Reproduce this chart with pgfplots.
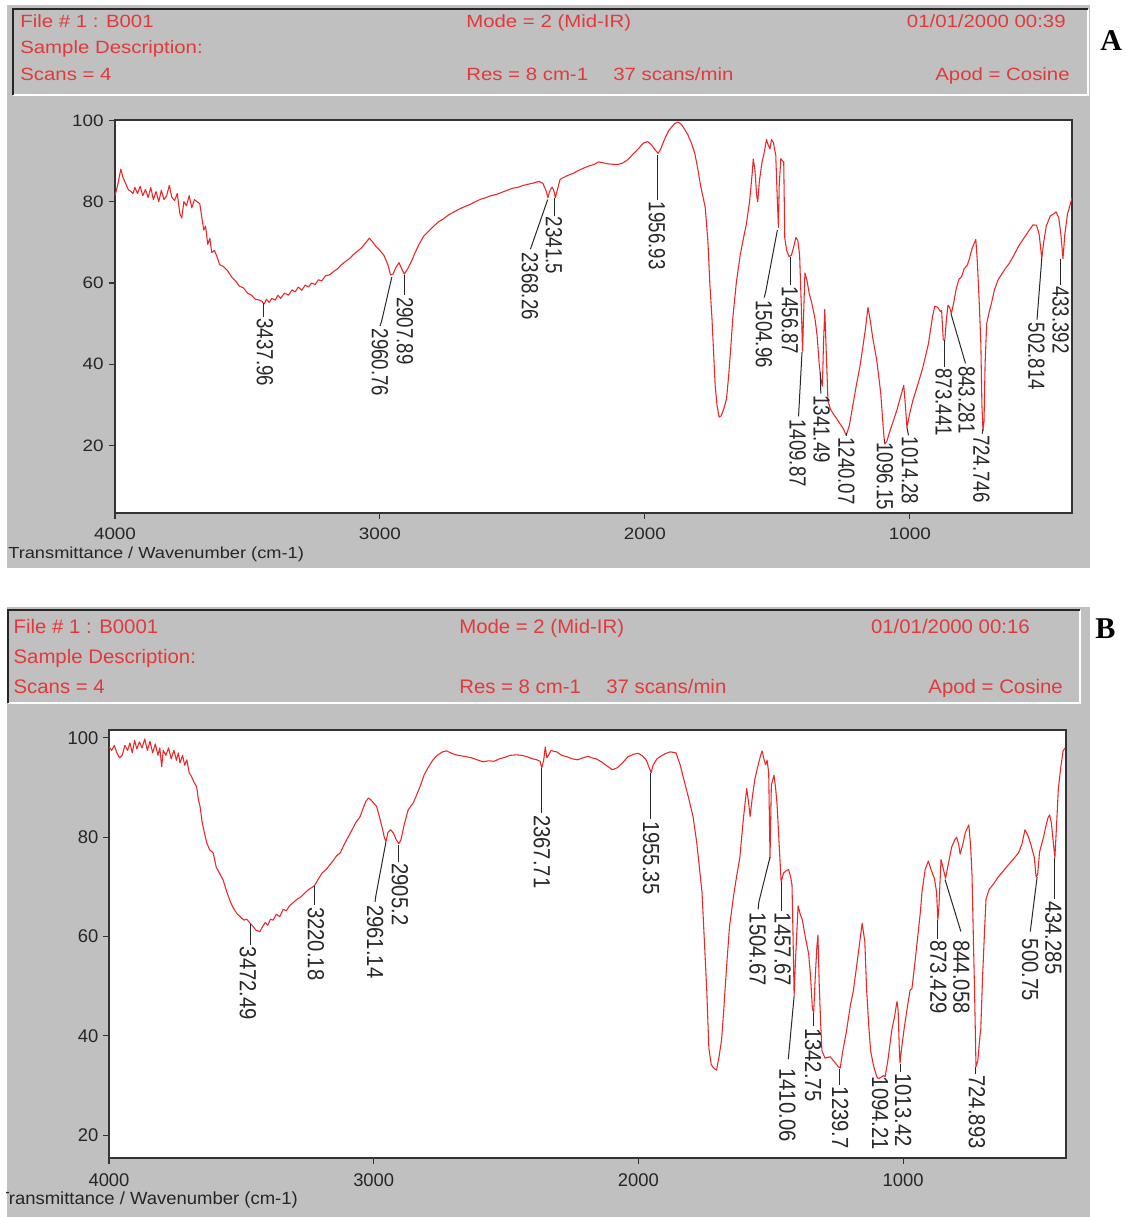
\documentclass[border=0pt]{standalone}
\usepackage{fontspec}
\setmainfont{Liberation Sans}
\newfontfamily\serifb{Liberation Serif}
\usepackage{pgfplots}
\pgfplotsset{compat=1.18}
\definecolor{panelgray}{RGB}{192,192,192}
\definecolor{specred}{RGB}{234,38,38}
\definecolor{hdrred}{RGB}{226,58,58}
\definecolor{lblgray}{RGB}{40,40,40}
\pgfplotsset{
  ftir/.style={
    scale only axis, x dir=reverse, clip mode=individual,
    axis background/.style={fill=white},
    axis line style={draw=black!80, line width=0.9pt},
    xtick={1000,2000,3000,4000}, ytick={20,40,60,80,100},
    tick align=outside, xtick pos=bottom, ytick pos=left,
    major tick length=4.5pt,
    tick style={black!80, line width=0.8pt},
    xticklabel style={yshift=-3.5pt},
    /pgf/number format/assume math mode=true,
    /pgf/number format/1000 sep={},
  },
  spec/.style={specred, line width=0.8pt, no marks, line join=round},
  leader/.style={lblgray, line width=0.75pt, no marks},
}
\tikzset{
  lblA/.style={xscale=1.25, rotate=-90, anchor=west, inner sep=0pt, font=\fontsize{14}{16}\selectfont, text=lblgray},
  lblB/.style={xscale=1.15, rotate=-90, anchor=west, inner sep=0pt, font=\fontsize{15.2}{17}\selectfont, text=lblgray},
  hdrA/.style={xscale=1.15, inner sep=0pt, font=\fontsize{13.3}{15}\selectfont, text=hdrred},
  hdrB/.style={xscale=1.04, inner sep=0pt, font=\fontsize{14.7}{16}\selectfont, text=hdrred},
}
\begin{document}
\begin{tikzpicture}
\begin{scope}[x=0.75pt, y=-0.75pt]
\path[use as bounding box, fill=white] (0,0) rectangle (1125,1217);
% panel backgrounds
\fill[panelgray] (7,5) rectangle (1090,568);
\fill[panelgray] (7,607) rectangle (1090,1217);
% header A
\draw[white, line width=1.6pt] (13,95) -- (1088,95) -- (1088,9);
\draw[black!85, line width=2pt] (13,95) -- (13,9) -- (1088,9);
% header B
\draw[white, line width=1.6pt] (8,703) -- (1080,703) -- (1080,610);
\draw[black!85, line width=2pt] (8,703) -- (8,610) -- (1080,610);
% header texts A
\node[hdrA, anchor=base west] at (20,27) {File \# 1 : B001};
\node[hdrA, anchor=base west] at (20,53.3) {Sample Description:};
\node[hdrA, anchor=base west] at (20,80) {Scans = 4};
\node[hdrA, anchor=base west] at (466,27) {Mode = 2 (Mid-IR)};
\node[hdrA, anchor=base west] at (466,80) {Res = 8 cm-1};
\node[hdrA, anchor=base west] at (613,80) {37 scans/min};
\node[hdrA, anchor=base east] at (1066,27) {01/01/2000 00:39};
\node[hdrA, anchor=base east] at (1070,80) {Apod = Cosine};
% header texts B
\node[hdrB, anchor=base west] at (13.3,633) {File \# 1 : B0001};
\node[hdrB, anchor=base west] at (13.3,663) {Sample Description:};
\node[hdrB, anchor=base west] at (13.3,693) {Scans = 4};
\node[hdrB, anchor=base west] at (459,633) {Mode = 2 (Mid-IR)};
\node[hdrB, anchor=base west] at (459,693) {Res = 8 cm-1};
\node[hdrB, anchor=base west] at (606,693) {37 scans/min};
\node[hdrB, anchor=base east] at (1030,633) {01/01/2000 00:16};
\node[hdrB, anchor=base east] at (1063,693) {Apod = Cosine};
% panel letters
\node[anchor=base west, inner sep=0pt, font=\serifb\bfseries\fontsize{22.6}{24}\selectfont] at (1100,50) {A};
\node[anchor=base west, inner sep=0pt, font=\serifb\bfseries\fontsize{22.6}{24}\selectfont] at (1095,638) {B};
% x labels
\node[anchor=base west, inner sep=0pt, xscale=1.14, font=\fontsize{12}{14}\selectfont, text=black!85] at (8,558) {Transmittance / Wavenumber (cm-1)};
\begin{scope}
\clip (6,1180) rectangle (400,1217);
\node[anchor=base west, inner sep=0pt, xscale=1.05, font=\fontsize{13.2}{15}\selectfont, text=black!85] at (-2,1204) {Transmittance / Wavenumber (cm-1)};
\end{scope}
\end{scope}

% ================= Panel A =================
\begin{axis}[ftir, at={(86.25pt,-384.75pt)}, anchor=south west,
  width=717.75pt, height=294.75pt,
  xmin=388, xmax=4000, ymin=3.4, ymax=100.1,
  ticklabel style={font=\fontsize{12.4}{14}\selectfont, text=black!85, xscale=1.14}]
\addplot[spec] table {
x y
4000 81.5
3990 84
3978 88
3970 86
3960 84.5
3950 83
3940 82.5
3932 82
3925 83.5
3915 82
3905 83.8
3895 81.5
3885 83
3875 81
3865 83.5
3855 80.5
3845 82.5
3835 80
3825 82.8
3815 80.5
3805 81.5
3795 84
3785 81
3775 80.3
3765 82
3755 77
3748 76
3740 80
3730 79
3720 81.5
3710 78.5
3700 80.5
3690 80
3680 79.5
3672 76
3665 73
3658 74
3650 69.5
3642 71
3635 67.5
3625 68
3615 66.5
3605 64.5
3590 64
3575 63
3560 61.5
3545 60.5
3530 59.2
3515 58.8
3500 57.5
3485 57
3470 56
3455 55.8
3445 55.5
3438 54.8
3428 56
3418 55.2
3408 56.2
3395 55.8
3385 57
3375 56.2
3360 57.5
3345 57
3332 58.3
3320 57.8
3308 59
3295 58.2
3282 59.5
3270 59
3258 60
3245 59.6
3232 60.8
3220 60.5
3205 61.8
3190 62
3175 62.8
3160 63.5
3145 64.5
3130 65.3
3115 66
3100 67
3085 67.8
3070 68.6
3055 69.8
3040 71
3030 70.3
3015 69
3000 68
2985 66.8
2970 64.5
2960 62
2950 62.2
2940 63.8
2928 65
2918 63.5
2908 62.2
2895 63.5
2880 65.5
2865 67.8
2850 69.8
2835 71.5
2820 72.5
2800 73.8
2780 75
2760 75.8
2740 76.8
2720 77.5
2700 78.2
2680 78.8
2660 79.3
2640 80
2620 80.6
2600 81
2580 81.5
2560 81.8
2540 82.3
2520 82.8
2500 83.3
2480 83.5
2460 84
2440 84.3
2420 84.6
2400 85
2385 84.5
2372 82.5
2366 81
2358 82.8
2350 83.6
2344 82.8
2338 81
2330 83
2320 85.5
2306 86
2290 86.5
2270 87
2250 87.7
2230 88.3
2210 88.8
2190 89.2
2175 89.8
2160 89.6
2140 89.3
2120 89.2
2100 89.2
2084 89.5
2065 90.3
2045 91.7
2025 93
2006 94.4
1990 94.8
1975 94
1962 92.8
1950 91.9
1940 93
1925 95.5
1910 97.5
1900 98.3
1888 99.2
1875 99.6
1862 99
1850 97.8
1838 96.5
1825 94.5
1812 92
1800 88
1790 84
1780 81
1772 78.5
1762 70
1755 60
1747 51.5
1740 42
1735 35
1728 30
1720 27
1712 27.3
1705 28.5
1698 30
1692 31.5
1684 37
1676 44
1668 51.5
1655 60
1640 67
1628 71
1617 74.5
1605 80
1595 87
1591 90.5
1585 88
1578 81.5
1574 80
1568 85
1558 89.7
1550 92
1541 95.3
1535 94
1528 93
1522 95.3
1515 94.5
1506 91.4
1500 80
1496 73.7
1493 84
1487 90.6
1480 90
1476 89.7
1472 71
1465 68
1456 66.5
1447 66.8
1438 69
1430 71.2
1423 70.5
1416 66.8
1410 55
1405 43.2
1402 50
1396 62.5
1389 60.9
1380 57.5
1370 55
1362 52.5
1357 50.8
1350 47
1342 40
1336 36.5
1330 34.6
1326 45
1321 53.5
1315 42
1309 31
1300 29
1290 27.9
1275 26.5
1260 25
1250 24
1240 22.5
1228 25
1215 30
1200 35.5
1189 39.2
1178 44
1168 48.5
1158 54
1150 51
1140 46.5
1125 41
1110 33
1100 24
1095 20.4
1087 21
1078 23
1060 26.5
1049 28.7
1035 32
1023 34.8
1017 30
1011 24.5
1000 28
989 31
970 35
951 39.2
930 45
915 51.5
906 54.3
895 54
885 53
880 53.2
874 46
868 45.9
862 51
856 54.5
850 54
843 52.5
835 55
825 58.5
815 60.9
805 61.5
795 63.5
783 64.4
775 66
765 68.5
751 70.7
745 65
738 55
732 45
728 30
724 23.7
720 26
716 40
710 50
700 53
692 55
680 58.5
666 60.9
650 62.5
640 63.5
626 64.7
610 66.5
590 69
570 71
549 73
535 74.3
522 74.2
512 72
502 66
495 70
485 74
470 76.5
457 77
448 77.5
438 76
430 72
422 66
415 72
405 77
396 79
388 81
};
% leaders A
\addplot[leader] coordinates {(3438,55) (3438,51.6)};
\addplot[leader] coordinates {(2955,61.5) (2994,50.5) (3000,49.4)};
\addplot[leader] coordinates {(2908,62) (2908,57)};
\addplot[leader] coordinates {(2367,80.5) (2432,68.3)};
\addplot[leader] coordinates {(2342,81) (2342,76.6)};
\addplot[leader] coordinates {(1954,91.5) (1954,80.4)};
\addplot[leader] coordinates {(1500,73) (1545,57.5) (1550,56.4)};
\addplot[leader] coordinates {(1450,66.3) (1450,59.4)};
\addplot[leader] coordinates {(1407,43) (1420,27.2)};
\addplot[leader] coordinates {(1338,38) (1336,32.8)};
\addplot[leader] coordinates {(1240,23.2) (1240,22.3)};
\addplot[leader] coordinates {(1095,21.5) (1095,20.9)};
\addplot[leader] coordinates {(1011,24.5) (1005,22.5)};
\addplot[leader] coordinates {(870,46) (870,39.4)};
\addplot[leader] coordinates {(845,52.5) (790,40.2)};
\addplot[leader] coordinates {(724,24) (727,22.9)};
\addplot[leader] coordinates {(502,66) (520,51)};
\addplot[leader] coordinates {(433,66) (433,59.6)};
% labels A
\node[lblA] at (axis cs:3434,51.3) {3437.96};
\node[lblA] at (axis cs:3000,48.8) {2960.76};
\node[lblA] at (axis cs:2906,56.6) {2907.89};
\node[lblA] at (axis cs:2434,67.6) {2368.26};
\node[lblA] at (axis cs:2343,76.3) {2341.5};
\node[lblA] at (axis cs:1955,80) {1956.93};
\node[lblA] at (axis cs:1551,55.8) {1504.96};
\node[lblA] at (axis cs:1453,59.1) {1456.87};
\node[lblA] at (axis cs:1423,26.5) {1409.87};
\node[lblA] at (axis cs:1333,32.4) {1341.49};
\node[lblA] at (axis cs:1239,22.1) {1240.07};
\node[lblA] at (axis cs:1094,20.8) {1096.15};
\node[lblA] at (axis cs:1000,22.2) {1014.28};
\node[lblA] at (axis cs:872,39) {873.441};
\node[lblA] at (axis cs:786,39.6) {843.281};
\node[lblA] at (axis cs:730,22.6) {724.746};
\node[lblA] at (axis cs:522,50.3) {502.814};
\node[lblA] at (axis cs:431,59.3) {433.392};
\end{axis}

% ================= Panel B =================
\begin{axis}[ftir, at={(81.75pt,-868.5pt)}, anchor=south west,
  width=717.75pt, height=321pt,
  xmin=385, xmax=4000, ymin=15.4, ymax=101.6,
  ticklabel style={font=\fontsize{13.8}{15}\selectfont, text=black!85}]
\addplot[spec] table {
x y
4000 98.2
3990 97.5
3980 98.5
3970 97
3960 96
3950 96.5
3940 98.5
3930 97.5
3921 99
3912 97
3903 99.5
3895 97.8
3885 99.2
3875 98
3865 99.8
3855 97.5
3845 99.3
3835 97
3825 98.8
3815 96.5
3808 98
3801 94.2
3795 97.5
3785 96.5
3775 98
3765 95.8
3755 97.5
3745 95.5
3738 97
3732 95
3722 96.5
3714 94.5
3706 95.6
3697 93
3688 92.2
3678 91
3669 90.2
3662 87.5
3656 86.2
3648 83
3640 81
3631 78.9
3620 77.5
3606 76.8
3595 74
3580 72.5
3569 71.4
3555 69
3540 66.8
3531 65.8
3515 64.5
3500 63.8
3490 63.3
3480 63.5
3467 62.7
3455 62
3445 61.3
3430 61
3420 62
3410 62.8
3400 62.3
3390 63.5
3380 63.3
3368 64.5
3355 64
3342 65.5
3330 65.2
3318 66.2
3305 66.8
3290 67.5
3275 68
3260 68.8
3245 69.5
3230 70
3222 70.4
3210 71.5
3195 72.8
3180 73.5
3165 74.5
3150 75.5
3140 76.3
3127 76.8
3112 78.5
3097 80
3082 81.5
3067 83
3052 84.1
3040 85.8
3030 87.2
3020 87.9
3010 87.5
2999 86.8
2989 86.2
2978 84
2966 81.5
2960 80
2954 79.1
2946 81
2936 81.5
2925 80.8
2915 79.5
2905 78.7
2897 79.5
2885 82.5
2870 85.5
2851 86.9
2838 88.5
2825 90.2
2810 92.5
2795 94
2776 95.6
2760 96.5
2740 97.2
2724 97.4
2710 97
2690 96.6
2670 96.4
2648 96.2
2630 96
2610 95.6
2587 95.2
2565 95.4
2545 95.3
2525 95.8
2505 96.1
2485 96.5
2460 96.6
2440 96.5
2420 96.2
2400 95.8
2384 95.6
2372 95.3
2365 94
2358 95.5
2352 98.2
2346 96
2340 96.5
2330 97.5
2320 97.3
2309 97.2
2290 96.5
2270 96.2
2250 95.8
2230 95.6
2210 96
2190 96.3
2177 96
2160 95.8
2140 95.2
2120 94.4
2098 93.6
2080 94
2060 95
2040 96.2
2020 96.7
2000 96.9
1985 96.4
1970 95.5
1958 93.8
1952 93
1945 94.5
1930 95.8
1917 96.3
1900 96.8
1880 97.2
1858 97
1842 94.5
1826 91.1
1810 87.8
1794 84.2
1780 79
1770 74
1760 69
1750 58
1742 49.2
1734 37.5
1725 34.2
1716 33.5
1705 33.1
1695 36
1686 39.2
1678 45
1673 49.2
1665 55.5
1656 62
1640 68.5
1628 72.5
1617 75.9
1605 83
1597 87
1591 89.8
1584 87
1578 84.2
1570 88
1560 91.8
1548 94.5
1540 96.2
1533 97.4
1527 96
1520 94.6
1514 95.5
1508 93
1503 75.9
1498 90.5
1488 92.5
1482 90
1476 86.3
1468 78
1461 71
1452 72.8
1443 73.2
1433 73.5
1425 72
1420 70.4
1416 60
1412 48.1
1407 55
1397 66.2
1389 64.5
1381 63.4
1370 60
1357 56.5
1350 52
1343 45.5
1338 44.7
1332 52
1326 58
1322 60.3
1317 50
1312 43
1307 37
1295 35.5
1276 35.8
1260 34.8
1245 33.8
1238 33.5
1228 37
1214 41
1200 46
1188 49.2
1176 54
1165 58.5
1155 62.7
1145 59
1138 49.2
1130 42
1123 37
1112 34
1100 31.8
1094 31.4
1085 31.6
1075 32
1068 31.8
1058 35
1043 41.2
1032 44
1025 46.5
1023 46.9
1019 45
1015 38
1012 34.5
1006 37.5
995 42
985 45.5
974 49.2
967 49.5
955 55
945 60
935 65
929 69
917 73.5
905 75.2
895 73.5
882 71.7
874 69
869 63.4
865 66
860 72
857 75.5
850 74
840 71.7
830 74.5
817 78
805 79.5
798 80
790 78.5
785 76.6
775 78.5
765 81
752 82.5
745 78
740 72.4
735 60
730 48
725 33.8
718 35
710 40
707 41.2
700 52
692 62
687 67.6
675 69.5
660 70.5
641 72
625 73
602 74.5
585 75.5
564 76.9
552 78.5
540 81.5
530 80.5
518 78.6
505 76
498 72
492 72.5
485 77
470 80
460 82.5
453 83.9
447 84.5
440 82.8
433 79
427 75.9
421 82
414 89.7
405 94
396 97.4
388 98
};
% leaders B
\addplot[leader] coordinates {(3467,62.5) (3467,58.3)};
\addplot[leader] coordinates {(3222,70.2) (3222,66.3)};
\addplot[leader] coordinates {(2954,79) (2992,68.2) (2995,67)};
\addplot[leader] coordinates {(2905,78.5) (2905,75)};
\addplot[leader] coordinates {(2366,94) (2366,84.8)};
\addplot[leader] coordinates {(1953,93) (1953,83.6)};
\addplot[leader] coordinates {(1503,76) (1545,67) (1548,65.5)};
\addplot[leader] coordinates {(1458,71) (1458,65.2)};
\addplot[leader] coordinates {(1412,48) (1434,35.3)};
\addplot[leader] coordinates {(1340,44.7) (1340,41.9)};
\addplot[leader] coordinates {(1239,33.3) (1239,30.1)};
\addplot[leader] coordinates {(1012,34.3) (1012,32.7)};
\addplot[leader] coordinates {(869,63.4) (869,59.6)};
\addplot[leader] coordinates {(842,71.5) (782,61)};
\addplot[leader] coordinates {(725,33.8) (725,32.4)};
\addplot[leader] coordinates {(494,72) (520,61)};
\addplot[leader] coordinates {(428,75.8) (428,67.5)};
% labels B
\node[lblB] at (axis cs:3475,58) {3472.49};
\node[lblB] at (axis cs:3218,66) {3220.18};
\node[lblB] at (axis cs:2995,66.4) {2961.14};
\node[lblB] at (axis cs:2901,74.8) {2905.2};
\node[lblB] at (axis cs:2365,84.5) {2367.71};
\node[lblB] at (axis cs:1952,83.3) {1955.35};
\node[lblB] at (axis cs:1550,64.8) {1504.67};
\node[lblB] at (axis cs:1455,64.8) {1457.67};
\node[lblB] at (axis cs:1437,33.5) {1410.06};
\node[lblB] at (axis cs:1340,41.6) {1342.75};
\node[lblB] at (axis cs:1238,29.8) {1239.7};
\node[lblB] at (axis cs:1087,31.8) {1094.21};
\node[lblB] at (axis cs:1000,32.5) {1013.42};
\node[lblB] at (axis cs:867,59.3) {873.429};
\node[lblB] at (axis cs:780,59.3) {844.058};
\node[lblB] at (axis cs:722,32.1) {724.893};
\node[lblB] at (axis cs:520,59.6) {500.75};
\node[lblB] at (axis cs:433,67.2) {434.285};
\end{axis}
\end{tikzpicture}
\end{document}
